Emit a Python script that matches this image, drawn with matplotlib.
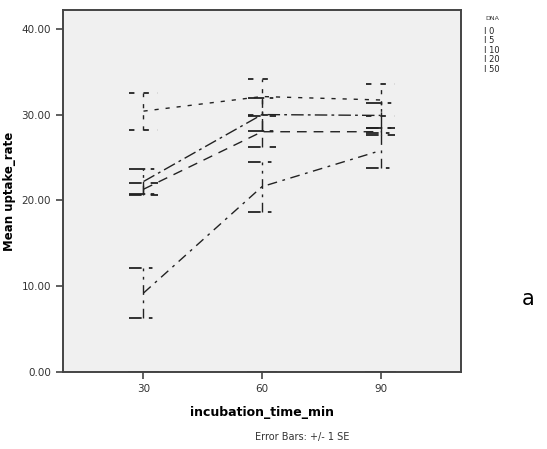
import matplotlib.pyplot as plt

# incubation time categories
times = ['30', '60', '90']

# mean uptake rate and SE per DNA level
dna_levels = ['0', '5', '10', '20', '50']
mean_0 = [0.0, 0.0, 0.0]
se_0 = [0.0, 0.0, 0.0]
mean_5 = [9.2, 21.6, 25.8]
se_5 = [2.95, 2.9, 2.0]
mean_10 = [21.3, 28.0, 28.0]
se_10 = [0.7, 1.8, 0.4]
mean_20 = [22.2, 30.0, 29.9]
se_20 = [1.5, 1.9, 1.5]
mean_50 = [30.4, 32.1, 31.7]
se_50 = [2.15, 2.1, 1.9]

means = [mean_0, mean_5, mean_10, mean_20, mean_50]
ses = [se_0, se_5, se_10, se_20, se_50]
styles = ['-', (0, (7, 4, 2, 4)), (0, (7, 5)), (0, (9, 3, 2, 3)), (0, (3, 5))]

fig = plt.figure(figsize=(5.47, 4.49), dpi=100)
ax = fig.add_axes([0.115, 0.1715, 0.728, 0.8065])
ax.set_facecolor('#f0f0f0')

x = list(range(len(times)))
for m, s, ls in zip(means, ses, styles):
    eb = ax.errorbar(x, m, yerr=s, color='#222222', lw=1.0, ls=ls,
                     elinewidth=1.0, capsize=0)
    eb[2][0].set_linestyle(ls)
    # caps drawn as short horizontal segments in the series style
    for xi, mi, si in zip(x, m, s):
        for yv in (mi - si, mi + si):
            ax.plot([xi - 0.12, xi + 0.12], [yv, yv], color='#222222',
                    lw=1.3, ls=ls)

ax.set_xlim(-0.68, 2.68)
ax.set_ylim(0, 42.2)
ax.set_xticks(x)
ax.set_xticklabels(times)
ax.set_yticks([0, 10, 20, 30, 40])
ax.set_yticklabels(['0.00', '10.00', '20.00', '30.00', '40.00'])
ax.tick_params(direction='out', length=5, width=1.2, colors='#444444',
               labelsize=7.5, labelcolor='#333333')
for sp in ax.spines.values():
    sp.set_color('#444444')
    sp.set_linewidth(1.4)

ax.set_ylabel('Mean uptake_rate', fontsize=8.5, fontweight='bold', labelpad=4)
ax.set_xlabel('incubation_time_min', fontsize=9, fontweight='bold', labelpad=9)
fig.text(0.552, 0.02, 'Error Bars: +/- 1 SE', ha='center', fontsize=7,
         color='#333333')

# legend with error-bar style markers
fig.text(0.887, 0.955, 'DNA', fontsize=4.5, color='#333333', ha='left')
for i, lab in enumerate(dna_levels):
    yy = 0.93 - i * 0.021
    fig.text(0.885, yy, 'I ' + lab, fontsize=6, color='#222222', ha='left',
             va='center')

fig.text(0.965, 0.335, 'a', fontsize=15, ha='center', va='center')

fig.savefig('out.png', dpi=100)
